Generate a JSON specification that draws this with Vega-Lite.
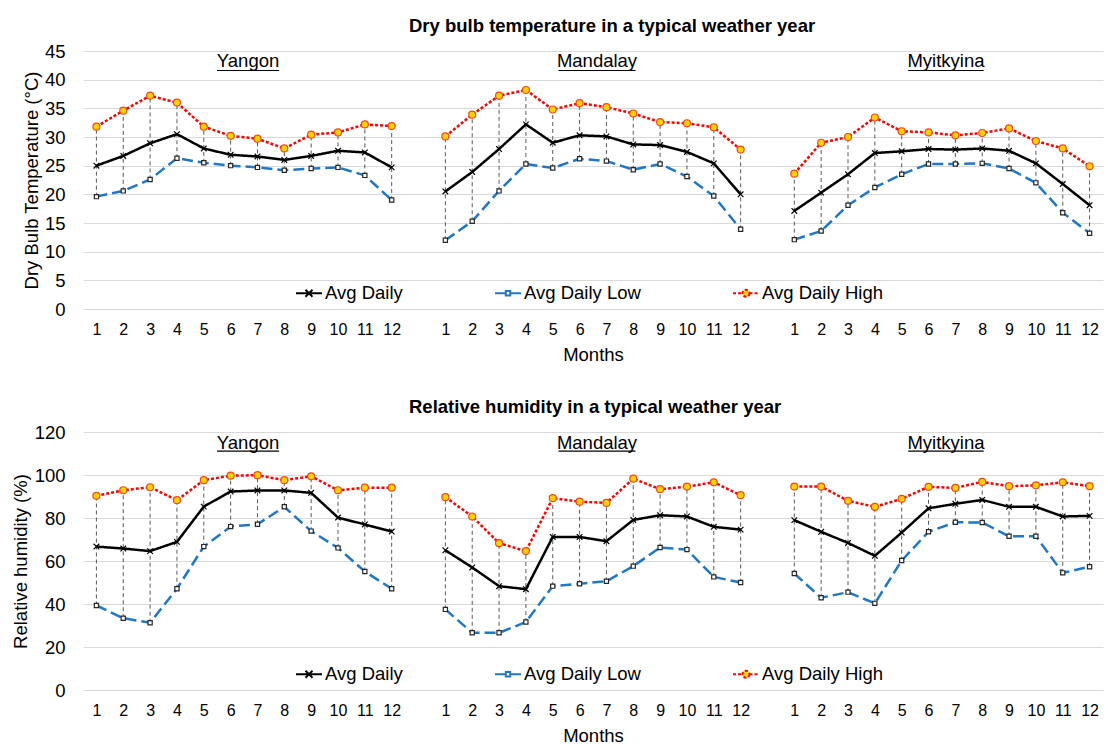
{
  "$schema": "https://vega.github.io/schema/vega-lite/v6.json",
  "background": "white",
  "padding": {"left": 11, "top": 16, "right": 5, "bottom": 5},
  "spacing": 33,
  "config": {
    "font": "Liberation Sans",
    "view": {"stroke": null},
    "axis": {"labelColor": "#000000", "titleColor": "#000000", "labelFont": "Liberation Sans", "titleFont": "Liberation Sans", "titleFontWeight": "normal"},
    "text": {"font": "Liberation Sans", "color": "#000000"},
    "title": {"font": "Liberation Sans", "color": "#000000", "fontSize": 18.5, "fontWeight": "bold", "anchor": "start", "frame": "group", "dx": 326, "offset": 7},
    "legend": {"orient": "none", "direction": "horizontal", "title": null, "symbolSize": 676, "symbolStrokeWidth": 2, "symbolOpacity": 1, "labelFontSize": 18.5, "labelFont": "Liberation Sans", "labelColor": "#000000", "labelOffset": 2, "columnPadding": 88, "padding": 0, "labelLimit": 300}
  },
  "datasets": {
    "temperature": [
      {"city": "Yangon", "month": 1, "Avg Daily": 25.0, "Avg Daily Low": 19.6, "Avg Daily High": 31.8},
      {"city": "Yangon", "month": 2, "Avg Daily": 26.7, "Avg Daily Low": 20.6, "Avg Daily High": 34.6},
      {"city": "Yangon", "month": 3, "Avg Daily": 28.9, "Avg Daily Low": 22.6, "Avg Daily High": 37.2},
      {"city": "Yangon", "month": 4, "Avg Daily": 30.5, "Avg Daily Low": 26.3, "Avg Daily High": 36.0},
      {"city": "Yangon", "month": 5, "Avg Daily": 28.0, "Avg Daily Low": 25.5, "Avg Daily High": 31.8},
      {"city": "Yangon", "month": 6, "Avg Daily": 26.9, "Avg Daily Low": 25.0, "Avg Daily High": 30.2},
      {"city": "Yangon", "month": 7, "Avg Daily": 26.6, "Avg Daily Low": 24.7, "Avg Daily High": 29.7},
      {"city": "Yangon", "month": 8, "Avg Daily": 26.0, "Avg Daily Low": 24.2, "Avg Daily High": 28.0},
      {"city": "Yangon", "month": 9, "Avg Daily": 26.7, "Avg Daily Low": 24.5, "Avg Daily High": 30.4},
      {"city": "Yangon", "month": 10, "Avg Daily": 27.6, "Avg Daily Low": 24.7, "Avg Daily High": 30.8},
      {"city": "Yangon", "month": 11, "Avg Daily": 27.3, "Avg Daily Low": 23.3, "Avg Daily High": 32.2},
      {"city": "Yangon", "month": 12, "Avg Daily": 24.7, "Avg Daily Low": 19.0, "Avg Daily High": 31.9},
      {"city": "Mandalay", "month": 1, "Avg Daily": 20.5, "Avg Daily Low": 12.0, "Avg Daily High": 30.1},
      {"city": "Mandalay", "month": 2, "Avg Daily": 23.9, "Avg Daily Low": 15.3, "Avg Daily High": 33.9},
      {"city": "Mandalay", "month": 3, "Avg Daily": 27.9, "Avg Daily Low": 20.6, "Avg Daily High": 37.2},
      {"city": "Mandalay", "month": 4, "Avg Daily": 32.2, "Avg Daily Low": 25.3, "Avg Daily High": 38.2},
      {"city": "Mandalay", "month": 5, "Avg Daily": 29.0, "Avg Daily Low": 24.6, "Avg Daily High": 34.8},
      {"city": "Mandalay", "month": 6, "Avg Daily": 30.3, "Avg Daily Low": 26.2, "Avg Daily High": 35.9},
      {"city": "Mandalay", "month": 7, "Avg Daily": 30.1, "Avg Daily Low": 25.8, "Avg Daily High": 35.2},
      {"city": "Mandalay", "month": 8, "Avg Daily": 28.7, "Avg Daily Low": 24.3, "Avg Daily High": 34.1},
      {"city": "Mandalay", "month": 9, "Avg Daily": 28.6, "Avg Daily Low": 25.3, "Avg Daily High": 32.6},
      {"city": "Mandalay", "month": 10, "Avg Daily": 27.4, "Avg Daily Low": 23.1, "Avg Daily High": 32.4},
      {"city": "Mandalay", "month": 11, "Avg Daily": 25.4, "Avg Daily Low": 19.7, "Avg Daily High": 31.7},
      {"city": "Mandalay", "month": 12, "Avg Daily": 20.0, "Avg Daily Low": 13.9, "Avg Daily High": 27.8},
      {"city": "Myitkyina", "month": 1, "Avg Daily": 17.1, "Avg Daily Low": 12.1, "Avg Daily High": 23.6},
      {"city": "Myitkyina", "month": 2, "Avg Daily": 20.3, "Avg Daily Low": 13.6, "Avg Daily High": 29.0},
      {"city": "Myitkyina", "month": 3, "Avg Daily": 23.5, "Avg Daily Low": 18.1, "Avg Daily High": 30.0},
      {"city": "Myitkyina", "month": 4, "Avg Daily": 27.2, "Avg Daily Low": 21.2, "Avg Daily High": 33.4},
      {"city": "Myitkyina", "month": 5, "Avg Daily": 27.5, "Avg Daily Low": 23.5, "Avg Daily High": 31.0},
      {"city": "Myitkyina", "month": 6, "Avg Daily": 27.9, "Avg Daily Low": 25.3, "Avg Daily High": 30.8},
      {"city": "Myitkyina", "month": 7, "Avg Daily": 27.8, "Avg Daily Low": 25.3, "Avg Daily High": 30.3},
      {"city": "Myitkyina", "month": 8, "Avg Daily": 28.0, "Avg Daily Low": 25.4, "Avg Daily High": 30.7},
      {"city": "Myitkyina", "month": 9, "Avg Daily": 27.6, "Avg Daily Low": 24.5, "Avg Daily High": 31.5},
      {"city": "Myitkyina", "month": 10, "Avg Daily": 25.4, "Avg Daily Low": 22.0, "Avg Daily High": 29.3},
      {"city": "Myitkyina", "month": 11, "Avg Daily": 21.8, "Avg Daily Low": 16.8, "Avg Daily High": 28.0},
      {"city": "Myitkyina", "month": 12, "Avg Daily": 18.1, "Avg Daily Low": 13.2, "Avg Daily High": 24.9}
    ],
    "humidity": [
      {"city": "Yangon", "month": 1, "Avg Daily": 66.7, "Avg Daily Low": 39.3, "Avg Daily High": 90.3},
      {"city": "Yangon", "month": 2, "Avg Daily": 65.8, "Avg Daily Low": 33.4, "Avg Daily High": 92.9},
      {"city": "Yangon", "month": 3, "Avg Daily": 64.6, "Avg Daily Low": 31.3, "Avg Daily High": 94.3},
      {"city": "Yangon", "month": 4, "Avg Daily": 68.9, "Avg Daily Low": 47.1, "Avg Daily High": 88.3},
      {"city": "Yangon", "month": 5, "Avg Daily": 85.3, "Avg Daily Low": 66.7, "Avg Daily High": 97.6},
      {"city": "Yangon", "month": 6, "Avg Daily": 92.3, "Avg Daily Low": 76.0, "Avg Daily High": 99.7},
      {"city": "Yangon", "month": 7, "Avg Daily": 92.8, "Avg Daily Low": 77.1, "Avg Daily High": 99.9},
      {"city": "Yangon", "month": 8, "Avg Daily": 92.8, "Avg Daily Low": 85.2, "Avg Daily High": 97.6},
      {"city": "Yangon", "month": 9, "Avg Daily": 91.7, "Avg Daily Low": 73.9, "Avg Daily High": 99.4},
      {"city": "Yangon", "month": 10, "Avg Daily": 80.2, "Avg Daily Low": 66.1, "Avg Daily High": 92.9},
      {"city": "Yangon", "month": 11, "Avg Daily": 77.0, "Avg Daily Low": 55.1, "Avg Daily High": 94.1},
      {"city": "Yangon", "month": 12, "Avg Daily": 73.7, "Avg Daily Low": 47.1, "Avg Daily High": 94.1},
      {"city": "Mandalay", "month": 1, "Avg Daily": 65.0, "Avg Daily Low": 37.5, "Avg Daily High": 89.7},
      {"city": "Mandalay", "month": 2, "Avg Daily": 57.0, "Avg Daily Low": 26.6, "Avg Daily High": 80.7},
      {"city": "Mandalay", "month": 3, "Avg Daily": 48.3, "Avg Daily Low": 26.6, "Avg Daily High": 68.3},
      {"city": "Mandalay", "month": 4, "Avg Daily": 46.9, "Avg Daily Low": 31.6, "Avg Daily High": 64.6},
      {"city": "Mandalay", "month": 5, "Avg Daily": 71.2, "Avg Daily Low": 48.3, "Avg Daily High": 89.2},
      {"city": "Mandalay", "month": 6, "Avg Daily": 71.2, "Avg Daily Low": 49.4, "Avg Daily High": 87.6},
      {"city": "Mandalay", "month": 7, "Avg Daily": 69.2, "Avg Daily Low": 50.6, "Avg Daily High": 87.0},
      {"city": "Mandalay", "month": 8, "Avg Daily": 79.1, "Avg Daily Low": 57.6, "Avg Daily High": 98.3},
      {"city": "Mandalay", "month": 9, "Avg Daily": 81.3, "Avg Daily Low": 66.3, "Avg Daily High": 93.4},
      {"city": "Mandalay", "month": 10, "Avg Daily": 80.7, "Avg Daily Low": 65.3, "Avg Daily High": 94.6},
      {"city": "Mandalay", "month": 11, "Avg Daily": 75.9, "Avg Daily Low": 52.6, "Avg Daily High": 96.6},
      {"city": "Mandalay", "month": 12, "Avg Daily": 74.6, "Avg Daily Low": 50.0, "Avg Daily High": 90.6},
      {"city": "Myitkyina", "month": 1, "Avg Daily": 79.0, "Avg Daily Low": 54.2, "Avg Daily High": 94.6},
      {"city": "Myitkyina", "month": 2, "Avg Daily": 73.6, "Avg Daily Low": 42.9, "Avg Daily High": 94.6},
      {"city": "Myitkyina", "month": 3, "Avg Daily": 68.4, "Avg Daily Low": 45.5, "Avg Daily High": 88.0},
      {"city": "Myitkyina", "month": 4, "Avg Daily": 62.4, "Avg Daily Low": 40.3, "Avg Daily High": 85.2},
      {"city": "Myitkyina", "month": 5, "Avg Daily": 73.2, "Avg Daily Low": 60.2, "Avg Daily High": 88.9},
      {"city": "Myitkyina", "month": 6, "Avg Daily": 84.5, "Avg Daily Low": 73.6, "Avg Daily High": 94.5},
      {"city": "Myitkyina", "month": 7, "Avg Daily": 86.6, "Avg Daily Low": 78.0, "Avg Daily High": 94.0},
      {"city": "Myitkyina", "month": 8, "Avg Daily": 88.4, "Avg Daily Low": 77.9, "Avg Daily High": 96.8},
      {"city": "Myitkyina", "month": 9, "Avg Daily": 85.2, "Avg Daily Low": 71.5, "Avg Daily High": 94.8},
      {"city": "Myitkyina", "month": 10, "Avg Daily": 85.2, "Avg Daily Low": 71.5, "Avg Daily High": 95.2},
      {"city": "Myitkyina", "month": 11, "Avg Daily": 80.7, "Avg Daily Low": 54.5, "Avg Daily High": 96.6},
      {"city": "Myitkyina", "month": 12, "Avg Daily": 81.0, "Avg Daily Low": 57.3, "Avg Daily High": 94.8}
    ]
  },
  "resolve": {
    "scale": {"color": "independent", "strokeDash": "independent", "shape": "independent", "fill": "independent", "stroke": "independent"},
    "legend": {"color": "independent", "strokeDash": "independent", "shape": "independent", "fill": "independent", "stroke": "independent"}
  },
  "vconcat": [
    {
      "width": 1020,
      "height": 258,
      "title": {"text": "Dry bulb temperature in a typical weather year"},
      "data": {"name": "temperature"},
      "transform": [
        {"calculate": "datum.month + (datum.city === 'Yangon' ? 0 : datum.city === 'Mandalay' ? 13 : 26)", "as": "pos"}
      ],
      "resolve": {
        "scale": {"shape": "independent", "stroke": "independent", "strokeDash": "independent", "fill": "independent"},
        "legend": {"shape": "independent", "stroke": "independent", "strokeDash": "independent", "fill": "independent"}
      },
      "encoding": {
        "x": {
          "field": "pos", "type": "quantitative",
          "scale": {"domain": [0.5, 38.5], "nice": false, "zero": false},
          "axis": {
            "title": "Months",
            "values": [1, 2, 3, 4, 5, 6, 7, 8, 9, 10, 11, 12, 14, 15, 16, 17, 18, 19, 20, 21, 22, 23, 24, 25, 27, 28, 29, 30, 31, 32, 33, 34, 35, 36, 37, 38],
            "labelExpr": "datum.value <= 12 ? datum.value : datum.value <= 25 ? datum.value - 13 : datum.value - 26",
            "grid": false, "domain": false, "ticks": false,
            "labelFontSize": 16, "labelPadding": 12, "labelFlush": false,
            "titleFontSize": 18.5, "titlePadding": 8
          }
        }
      },
      "layer": [
        {
          "mark": {"type": "rule", "color": "#595959", "strokeWidth": 1, "strokeDash": [4, 3]},
          "encoding": {
            "y": {
              "field": "Avg Daily Low", "type": "quantitative",
              "scale": {"domain": [0, 45], "nice": false, "zero": true},
              "axis": {"title": "Dry Bulb Temperature (°C)", "values": [0, 5, 10, 15, 20, 25, 30, 35, 40, 45], "labelOverlap": false, "grid": true, "gridColor": "#d9d9d9", "gridWidth": 1, "domain": false, "ticks": false, "labelFontSize": 18.5, "labelPadding": 18, "titleFontSize": 18.5, "titlePadding": 3}
            },
            "y2": {"field": "Avg Daily High"}
          }
        },
        {
          "transform": [{"fold": ["Avg Daily", "Avg Daily Low", "Avg Daily High"], "as": ["series", "value"]}],
          "mark": {"type": "line", "strokeWidth": 2.5},
          "encoding": {
            "y": {
              "field": "value", "type": "quantitative",
              "axis": {"title": "Dry Bulb Temperature (°C)", "values": [0, 5, 10, 15, 20, 25, 30, 35, 40, 45], "labelOverlap": false, "grid": true, "gridColor": "#d9d9d9", "gridWidth": 1, "domain": false, "ticks": false, "labelFontSize": 18.5, "labelPadding": 18, "titleFontSize": 18.5, "titlePadding": 3}
            },
            "detail": {"field": "city"},
            "color": {
              "field": "series", "type": "nominal",
              "scale": {"domain": ["Avg Daily", "Avg Daily Low", "Avg Daily High"], "range": ["#000000", "#1f77c6", "#ff0000"]},
              "legend": null
            },
            "strokeDash": {
              "field": "series", "type": "nominal",
              "scale": {"domain": ["Avg Daily", "Avg Daily Low", "Avg Daily High"], "range": [[1, 0], [11, 5], [3, 2]]},
              "legend": null
            }
          }
        },
        {
          "transform": [{"fold": ["Avg Daily", "Avg Daily Low", "Avg Daily High"], "as": ["marker", "value"]}],
          "mark": {"type": "point", "size": 49, "strokeWidth": 1.2, "opacity": 1},
          "encoding": {
            "y": {
              "field": "value", "type": "quantitative",
              "axis": {"title": "Dry Bulb Temperature (°C)", "values": [0, 5, 10, 15, 20, 25, 30, 35, 40, 45], "labelOverlap": false, "grid": true, "gridColor": "#d9d9d9", "gridWidth": 1, "domain": false, "ticks": false, "labelFontSize": 18.5, "labelPadding": 18, "titleFontSize": 18.5, "titlePadding": 3}
            },
            "shape": {
              "field": "marker", "type": "nominal",
              "scale": {"domain": ["Avg Daily", "Avg Daily Low", "Avg Daily High"], "range": ["M-0.8,-0.8L0.8,0.8M-0.8,0.8L0.8,-0.8", "M-0.6,-0.6H0.6V0.6H-0.6Z", "M1,0A1,1,0,1,1,-1,0A1,1,0,1,1,1,0Z"]},
              "legend": null
            },
            "fill": {
              "field": "marker", "type": "nominal",
              "scale": {"domain": ["Avg Daily", "Avg Daily Low", "Avg Daily High"], "range": ["#000000", "#ffffff", "#ffd200"]},
              "legend": null
            },
            "stroke": {
              "field": "marker", "type": "nominal",
              "scale": {"domain": ["Avg Daily", "Avg Daily Low", "Avg Daily High"], "range": ["#000000", "#262626", "#f04a18"]},
              "legend": null
            }
          }
        },
        {
          "transform": [
            {"fold": ["Avg Daily", "Avg Daily Low", "Avg Daily High"], "as": ["key", "value"]},
            {"filter": "false"}
          ],
          "mark": {"type": "point", "opacity": 1},
          "encoding": {
            "shape": {
              "field": "key", "type": "nominal",
              "scale": {"domain": ["Avg Daily", "Avg Daily Low", "Avg Daily High"], "range": ["M-1,0H1M-0.27,-0.27L0.27,0.27M-0.27,0.27L0.27,-0.27", "M-1,0H-0.17M0.17,0H1M-0.17,-0.17H0.17V0.17H-0.17Z", "M-1,0H-0.27M0.27,0H1M0.27,0A0.27,0.27,0,1,1,-0.27,0A0.27,0.27,0,1,1,0.27,0Z"]},
              "legend": {"legendX": 212, "legendY": 228}
            },
            "stroke": {
              "field": "key", "type": "nominal",
              "scale": {"domain": ["Avg Daily", "Avg Daily Low", "Avg Daily High"], "range": ["#000000", "#1f77c6", "#ff0000"]},
              "legend": {"legendX": 212, "legendY": 228}
            },
            "fill": {
              "field": "key", "type": "nominal",
              "scale": {"domain": ["Avg Daily", "Avg Daily Low", "Avg Daily High"], "range": ["#000000", "#ffffff", "#ffd200"]},
              "legend": {"legendX": 212, "legendY": 228}
            },
            "strokeDash": {
              "field": "key", "type": "nominal",
              "scale": {"domain": ["Avg Daily", "Avg Daily Low", "Avg Daily High"], "range": [[1, 0], [1, 0], [3, 2]]},
              "legend": {"legendX": 212, "legendY": 228}
            }
          }
        },
        {
          "transform": [{"aggregate": [{"op": "mean", "field": "pos", "as": "center"}], "groupby": ["city"]}],
          "mark": {"type": "text", "fontSize": 18.5, "align": "center", "baseline": "middle", "dx": 4},
          "encoding": {
            "x": {"field": "center", "type": "quantitative"},
            "y": {
              "datum": 43.3, "type": "quantitative",
              "axis": {"title": "Dry Bulb Temperature (°C)", "values": [0, 5, 10, 15, 20, 25, 30, 35, 40, 45], "labelOverlap": false, "grid": true, "gridColor": "#d9d9d9", "gridWidth": 1, "domain": false, "ticks": false, "labelFontSize": 18.5, "labelPadding": 18, "titleFontSize": 18.5, "titlePadding": 3}
            },
            "text": {"field": "city"}
          }
        },
        {
          "transform": [
            {"aggregate": [{"op": "mean", "field": "pos", "as": "center"}], "groupby": ["city"]},
            {"calculate": "length(replace(datum.city, regexp('[iltj]', 'g'), ''))", "as": "wide"},
            {"calculate": "(datum.wide * 0.56 + (length(datum.city) - datum.wide) * 0.24) * 18.5 / 26.84 / 2", "as": "half"},
            {"calculate": "datum.center - datum.half", "as": "u1"},
            {"calculate": "datum.center + datum.half", "as": "u2"}
          ],
          "mark": {"type": "rule", "color": "#000000", "strokeWidth": 1.2, "xOffset": 4, "x2Offset": 4},
          "encoding": {
            "x": {"field": "u1", "type": "quantitative"},
            "x2": {"field": "u2"},
            "y": {
              "datum": 41.6, "type": "quantitative",
              "axis": {"title": "Dry Bulb Temperature (°C)", "values": [0, 5, 10, 15, 20, 25, 30, 35, 40, 45], "labelOverlap": false, "grid": true, "gridColor": "#d9d9d9", "gridWidth": 1, "domain": false, "ticks": false, "labelFontSize": 18.5, "labelPadding": 18, "titleFontSize": 18.5, "titlePadding": 3}
            }
          }
        }
      ]
    },
    {
      "width": 1020,
      "height": 258,
      "title": {"text": "Relative humidity in a typical weather year"},
      "data": {"name": "humidity"},
      "transform": [
        {"calculate": "datum.month + (datum.city === 'Yangon' ? 0 : datum.city === 'Mandalay' ? 13 : 26)", "as": "pos"}
      ],
      "resolve": {
        "scale": {"shape": "independent", "stroke": "independent", "strokeDash": "independent", "fill": "independent"},
        "legend": {"shape": "independent", "stroke": "independent", "strokeDash": "independent", "fill": "independent"}
      },
      "encoding": {
        "x": {
          "field": "pos", "type": "quantitative",
          "scale": {"domain": [0.5, 38.5], "nice": false, "zero": false},
          "axis": {
            "title": "Months",
            "values": [1, 2, 3, 4, 5, 6, 7, 8, 9, 10, 11, 12, 14, 15, 16, 17, 18, 19, 20, 21, 22, 23, 24, 25, 27, 28, 29, 30, 31, 32, 33, 34, 35, 36, 37, 38],
            "labelExpr": "datum.value <= 12 ? datum.value : datum.value <= 25 ? datum.value - 13 : datum.value - 26",
            "grid": false, "domain": false, "ticks": false,
            "labelFontSize": 16, "labelPadding": 12, "labelFlush": false,
            "titleFontSize": 18.5, "titlePadding": 8
          }
        }
      },
      "layer": [
        {
          "mark": {"type": "rule", "color": "#595959", "strokeWidth": 1, "strokeDash": [4, 3]},
          "encoding": {
            "y": {
              "field": "Avg Daily Low", "type": "quantitative",
              "scale": {"domain": [0, 120], "nice": false, "zero": true},
              "axis": {"title": "Relative humidity (%)", "values": [0, 20, 40, 60, 80, 100, 120], "labelOverlap": false, "grid": true, "gridColor": "#d9d9d9", "gridWidth": 1, "domain": false, "ticks": false, "labelFontSize": 18.5, "labelPadding": 18, "titleFontSize": 18.5, "titlePadding": 4}
            },
            "y2": {"field": "Avg Daily High"}
          }
        },
        {
          "transform": [{"fold": ["Avg Daily", "Avg Daily Low", "Avg Daily High"], "as": ["series", "value"]}],
          "mark": {"type": "line", "strokeWidth": 2.5},
          "encoding": {
            "y": {
              "field": "value", "type": "quantitative",
              "axis": {"title": "Relative humidity (%)", "values": [0, 20, 40, 60, 80, 100, 120], "labelOverlap": false, "grid": true, "gridColor": "#d9d9d9", "gridWidth": 1, "domain": false, "ticks": false, "labelFontSize": 18.5, "labelPadding": 18, "titleFontSize": 18.5, "titlePadding": 4}
            },
            "detail": {"field": "city"},
            "color": {
              "field": "series", "type": "nominal",
              "scale": {"domain": ["Avg Daily", "Avg Daily Low", "Avg Daily High"], "range": ["#000000", "#1f77c6", "#ff0000"]},
              "legend": null
            },
            "strokeDash": {
              "field": "series", "type": "nominal",
              "scale": {"domain": ["Avg Daily", "Avg Daily Low", "Avg Daily High"], "range": [[1, 0], [11, 5], [3, 2]]},
              "legend": null
            }
          }
        },
        {
          "transform": [{"fold": ["Avg Daily", "Avg Daily Low", "Avg Daily High"], "as": ["marker", "value"]}],
          "mark": {"type": "point", "size": 49, "strokeWidth": 1.2, "opacity": 1},
          "encoding": {
            "y": {
              "field": "value", "type": "quantitative",
              "axis": {"title": "Relative humidity (%)", "values": [0, 20, 40, 60, 80, 100, 120], "labelOverlap": false, "grid": true, "gridColor": "#d9d9d9", "gridWidth": 1, "domain": false, "ticks": false, "labelFontSize": 18.5, "labelPadding": 18, "titleFontSize": 18.5, "titlePadding": 4}
            },
            "shape": {
              "field": "marker", "type": "nominal",
              "scale": {"domain": ["Avg Daily", "Avg Daily Low", "Avg Daily High"], "range": ["M-0.8,-0.8L0.8,0.8M-0.8,0.8L0.8,-0.8", "M-0.6,-0.6H0.6V0.6H-0.6Z", "M1,0A1,1,0,1,1,-1,0A1,1,0,1,1,1,0Z"]},
              "legend": null
            },
            "fill": {
              "field": "marker", "type": "nominal",
              "scale": {"domain": ["Avg Daily", "Avg Daily Low", "Avg Daily High"], "range": ["#000000", "#ffffff", "#ffd200"]},
              "legend": null
            },
            "stroke": {
              "field": "marker", "type": "nominal",
              "scale": {"domain": ["Avg Daily", "Avg Daily Low", "Avg Daily High"], "range": ["#000000", "#262626", "#f04a18"]},
              "legend": null
            }
          }
        },
        {
          "transform": [
            {"fold": ["Avg Daily", "Avg Daily Low", "Avg Daily High"], "as": ["key", "value"]},
            {"filter": "false"}
          ],
          "mark": {"type": "point", "opacity": 1},
          "encoding": {
            "shape": {
              "field": "key", "type": "nominal",
              "scale": {"domain": ["Avg Daily", "Avg Daily Low", "Avg Daily High"], "range": ["M-1,0H1M-0.27,-0.27L0.27,0.27M-0.27,0.27L0.27,-0.27", "M-1,0H-0.17M0.17,0H1M-0.17,-0.17H0.17V0.17H-0.17Z", "M-1,0H-0.27M0.27,0H1M0.27,0A0.27,0.27,0,1,1,-0.27,0A0.27,0.27,0,1,1,0.27,0Z"]},
              "legend": {"legendX": 212, "legendY": 228}
            },
            "stroke": {
              "field": "key", "type": "nominal",
              "scale": {"domain": ["Avg Daily", "Avg Daily Low", "Avg Daily High"], "range": ["#000000", "#1f77c6", "#ff0000"]},
              "legend": {"legendX": 212, "legendY": 228}
            },
            "fill": {
              "field": "key", "type": "nominal",
              "scale": {"domain": ["Avg Daily", "Avg Daily Low", "Avg Daily High"], "range": ["#000000", "#ffffff", "#ffd200"]},
              "legend": {"legendX": 212, "legendY": 228}
            },
            "strokeDash": {
              "field": "key", "type": "nominal",
              "scale": {"domain": ["Avg Daily", "Avg Daily Low", "Avg Daily High"], "range": [[1, 0], [1, 0], [3, 2]]},
              "legend": {"legendX": 212, "legendY": 228}
            }
          }
        },
        {
          "transform": [{"aggregate": [{"op": "mean", "field": "pos", "as": "center"}], "groupby": ["city"]}],
          "mark": {"type": "text", "fontSize": 18.5, "align": "center", "baseline": "middle", "dx": 4},
          "encoding": {
            "x": {"field": "center", "type": "quantitative"},
            "y": {
              "datum": 114.7, "type": "quantitative",
              "axis": {"title": "Relative humidity (%)", "values": [0, 20, 40, 60, 80, 100, 120], "labelOverlap": false, "grid": true, "gridColor": "#d9d9d9", "gridWidth": 1, "domain": false, "ticks": false, "labelFontSize": 18.5, "labelPadding": 18, "titleFontSize": 18.5, "titlePadding": 4}
            },
            "text": {"field": "city"}
          }
        },
        {
          "transform": [
            {"aggregate": [{"op": "mean", "field": "pos", "as": "center"}], "groupby": ["city"]},
            {"calculate": "length(replace(datum.city, regexp('[iltj]', 'g'), ''))", "as": "wide"},
            {"calculate": "(datum.wide * 0.56 + (length(datum.city) - datum.wide) * 0.24) * 18.5 / 26.84 / 2", "as": "half"},
            {"calculate": "datum.center - datum.half", "as": "u1"},
            {"calculate": "datum.center + datum.half", "as": "u2"}
          ],
          "mark": {"type": "rule", "color": "#000000", "strokeWidth": 1.2, "xOffset": 4, "x2Offset": 4},
          "encoding": {
            "x": {"field": "u1", "type": "quantitative"},
            "x2": {"field": "u2"},
            "y": {
              "datum": 111.1, "type": "quantitative",
              "axis": {"title": "Relative humidity (%)", "values": [0, 20, 40, 60, 80, 100, 120], "labelOverlap": false, "grid": true, "gridColor": "#d9d9d9", "gridWidth": 1, "domain": false, "ticks": false, "labelFontSize": 18.5, "labelPadding": 18, "titleFontSize": 18.5, "titlePadding": 4}
            }
          }
        }
      ]
    }
  ]
}
